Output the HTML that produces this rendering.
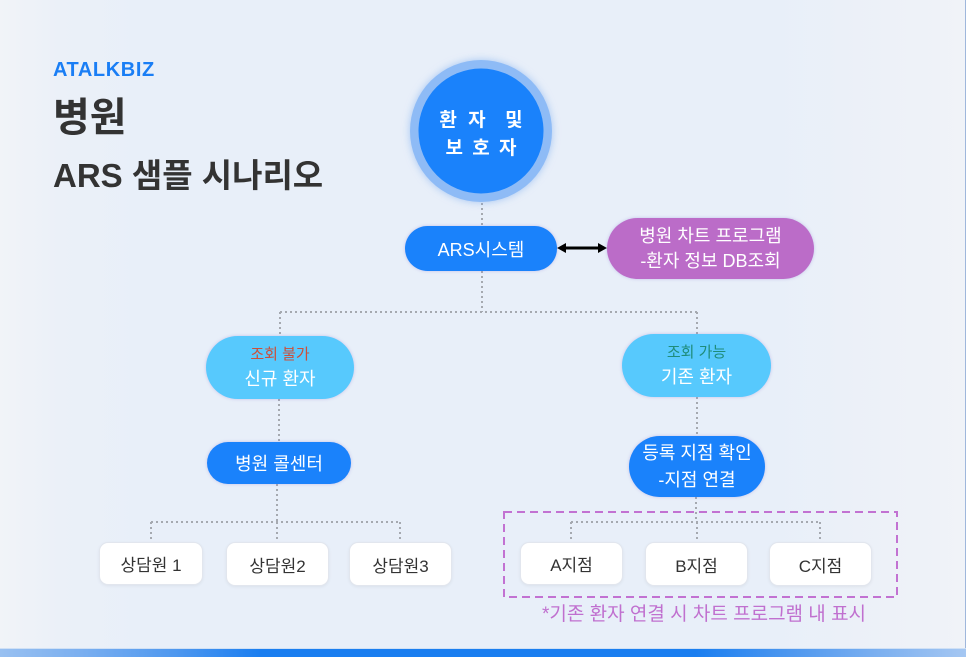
<!DOCTYPE html>
<html><head><meta charset="utf-8">
<style>
*{margin:0;padding:0;box-sizing:border-box}
html,body{width:966px;height:657px;overflow:hidden}
body{position:relative;font-family:"Liberation Sans","Noto Sans CJK KR",sans-serif;
background:linear-gradient(90deg,#f1f4f8 0%,#ebf0f8 6%,#e8eff9 15%,#e8eff9 80%,#edf1f8 92%,#f0f3f8 100%);}
.abs{position:absolute}
.t{position:absolute;left:53px;color:#333;font-weight:bold;white-space:nowrap}
.pill{position:absolute;display:flex;flex-direction:column;align-items:center;justify-content:center;color:#fff;border-radius:40px;white-space:nowrap;box-shadow:0 0 3px rgba(130,110,210,0.35)}
.blue{background:#1a82fb}
.cyan{background:#57c9fd}
.box{position:absolute;background:#fff;border-radius:9px;border:1px solid #e2e6ee;box-shadow:0 1px 3px rgba(0,0,0,0.06);display:flex;align-items:center;justify-content:center;color:#333;font-size:17px;white-space:nowrap}
</style></head><body>
<div class="abs" style="right:0;top:0;width:1px;height:649px;background:#9fb7dc"></div>
<div class="abs" style="left:0;top:648px;width:966px;height:1px;background:#cfe0f5"></div>
<div class="abs" style="left:0;top:649px;width:966px;height:8px;background:linear-gradient(90deg,#98c0f1 0%,#7cb0f0 8%,#4f98ef 18%,#1a7ef0 27%,#1a7ef0 72%,#4f98ef 82%,#7cb0f0 91%,#a5c7f2 100%)"></div>

<div class="t" style="top:59px;font-size:20px;color:#1a7ef5;letter-spacing:0.6px">ATALKBIZ</div>
<div class="t" style="top:94px;font-size:40px;line-height:48px">병원</div>
<div class="t" style="top:155px;font-size:33px;line-height:42px">ARS 샘플 시나리오</div>

<svg class="abs" style="left:0;top:0" width="966" height="657">
<g stroke="#a5a9b0" stroke-width="2" stroke-dasharray="2 3" fill="none">
<line x1="482" y1="203" x2="482" y2="226"/>
<line x1="482" y1="271" x2="482" y2="312"/>
<line x1="280" y1="312" x2="698" y2="312"/>
<line x1="280" y1="312" x2="280" y2="336"/>
<line x1="697" y1="312" x2="697" y2="334"/>
<line x1="279" y1="399" x2="279" y2="442"/>
<line x1="697" y1="397" x2="697" y2="436"/>
<line x1="277" y1="484" x2="277" y2="522"/>
<line x1="151" y1="522" x2="400" y2="522"/>
<line x1="151" y1="522" x2="151" y2="542"/>
<line x1="277" y1="522" x2="277" y2="542"/>
<line x1="400" y1="522" x2="400" y2="542"/>
<line x1="696" y1="497" x2="696" y2="522"/>
<line x1="571" y1="522" x2="820" y2="522"/>
<line x1="571" y1="522" x2="571" y2="542"/>
<line x1="697" y1="522" x2="697" y2="542"/>
<line x1="820" y1="522" x2="820" y2="542"/>
</g>
<rect x="504" y="512" width="393" height="85" fill="none" stroke="#c272d2" stroke-width="2" stroke-dasharray="8 5"/>
<line x1="563" y1="248" x2="601" y2="248" stroke="#000" stroke-width="3"/>
<polygon points="557,248 566,243 566,253" fill="#000"/>
<polygon points="607,248 598,243 598,253" fill="#000"/>
<circle cx="481" cy="131" r="71" fill="#8ebbf6" style="filter:drop-shadow(0 0 4px rgba(120,170,240,0.6))"/>
<circle cx="481" cy="131" r="62.5" fill="#1a82fb"/>
</svg>

<div class="abs" style="left:411px;top:107px;width:140px;text-align:center;color:#fff;font-size:19px;font-weight:bold;line-height:28px;white-space:pre"><div style="letter-spacing:3px;padding-left:3px">환 자  및</div><div style="letter-spacing:2px;padding-left:2px">보 호 자</div></div>

<div class="pill blue" style="left:405px;top:226px;width:152px;height:45px;font-size:18px">ARS시스템</div>
<div class="pill" style="left:607px;top:218px;width:207px;height:61px;background:#bb6cc8;font-size:18px;line-height:25px"><div>병원 차트 프로그램</div><div>-환자 정보 DB조회</div></div>

<div class="pill cyan" style="left:206px;top:336px;width:148px;height:63px"><div style="font-size:15px;line-height:22px;color:#cc4f3a">조회 불가</div><div style="font-size:18px;line-height:26px">신규 환자</div></div>
<div class="pill cyan" style="left:622px;top:334px;width:149px;height:63px"><div style="font-size:15px;line-height:22px;color:#1f8c7a">조회 가능</div><div style="font-size:18px;line-height:26px">기존 환자</div></div>

<div class="pill blue" style="left:207px;top:442px;width:144px;height:42px;font-size:18px">병원 콜센터</div>
<div class="pill blue" style="left:629px;top:436px;width:136px;height:61px;font-size:18px;line-height:27px"><div>등록 지점 확인</div><div>-지점 연결</div></div>

<div class="box" style="left:99px;top:542px;width:104px;height:43px">상담원 1</div>
<div class="box" style="left:226px;top:542px;width:103px;height:44px">상담원2</div>
<div class="box" style="left:349px;top:542px;width:103px;height:44px">상담원3</div>
<div class="box" style="left:520px;top:542px;width:103px;height:43px">A지점</div>
<div class="box" style="left:645px;top:542px;width:103px;height:44px">B지점</div>
<div class="box" style="left:769px;top:542px;width:103px;height:44px">C지점</div>

<div class="abs" style="left:542px;top:602px;font-size:19px;line-height:26px;color:#c070cf;white-space:nowrap">*기존 환자 연결 시 차트 프로그램 내 표시</div>
</body></html>
